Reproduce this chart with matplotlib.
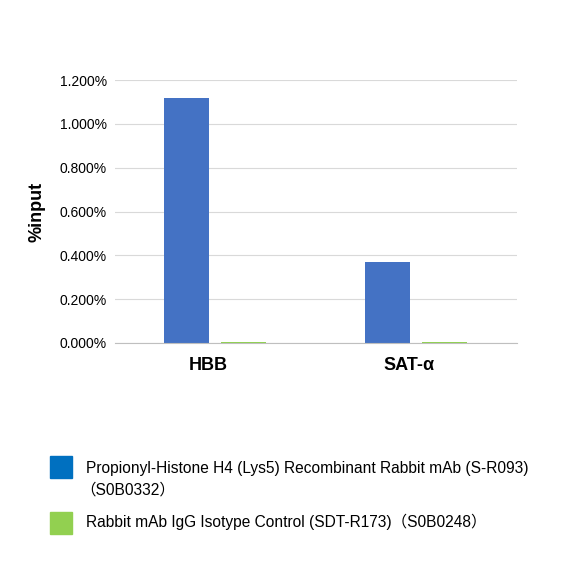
import matplotlib
matplotlib.use("Agg")
import matplotlib.pyplot as plt
import numpy as np

categories = ["HBB", "SAT-α"]
series_names = ["Propionyl-Histone H4 (Lys5) Recombinant Rabbit mAb (S-R093)\n（S0B0332）",
                "Rabbit mAb IgG Isotype Control (SDT-R173)（S0B0248）"]
values_ab = [1.118, 0.370]
values_igg = [0.005, 0.005]
yticks = [0, 0.2, 0.4, 0.6, 0.8, 1.0, 1.2]

fam = ["Liberation Sans", "Noto Sans CJK SC", "DejaVu Sans"]
plt.rcParams["font.family"] = fam

fig = plt.figure(figsize=(5.87, 5.65), dpi=100)
ax = fig.add_axes([115/587, (565-343)/565, 402/587, 263/565])
x = np.arange(len(categories))
w = 0.225
ax.bar(x - 0.145, values_ab, w, color="#4472C4")
ax.bar(x + 0.14, values_igg, w, color="#8FD14F")
ax.set_xlim(-0.5, 1.5)
ax.set_ylim(0, 1.2)
ax.set_yticks(yticks)
ax.set_yticklabels([f"{v:.3f}%" for v in yticks], fontsize=10)
ax.set_xticks(x - 0.035)
ax.set_xticklabels(categories, fontsize=13, fontweight="bold")
ax.grid(axis="y", color="#D9D9D9", lw=0.8)
ax.set_axisbelow(True)
for s in ["left", "right", "top"]:
    ax.spines[s].set_visible(False)
ax.spines["bottom"].set_color("#BFBFBF")
ax.tick_params(length=0, pad=6)
ax.tick_params(axis="x", pad=10)
ax.set_ylabel("%input", fontsize=13, fontweight="bold", labelpad=10)

from matplotlib.patches import Rectangle
fig.patches.append(Rectangle((50/587, 1-478/565), 22/587, 22/565, color="#0070C0", transform=fig.transFigure))
fig.patches.append(Rectangle((50/587, 1-534/565), 22/587, 22/565, color="#92D050", transform=fig.transFigure))
fig.text(86/587, 1-468/565, series_names[0].split("\n")[0], fontsize=11.2, va="center")
fig.text(80/587, 1-490/565, series_names[0].split("\n")[1], fontsize=11.2, va="center")
fig.text(86/587, 1-522/565, series_names[1], fontsize=11.2, va="center")
fig.savefig("out.png", dpi=100)
